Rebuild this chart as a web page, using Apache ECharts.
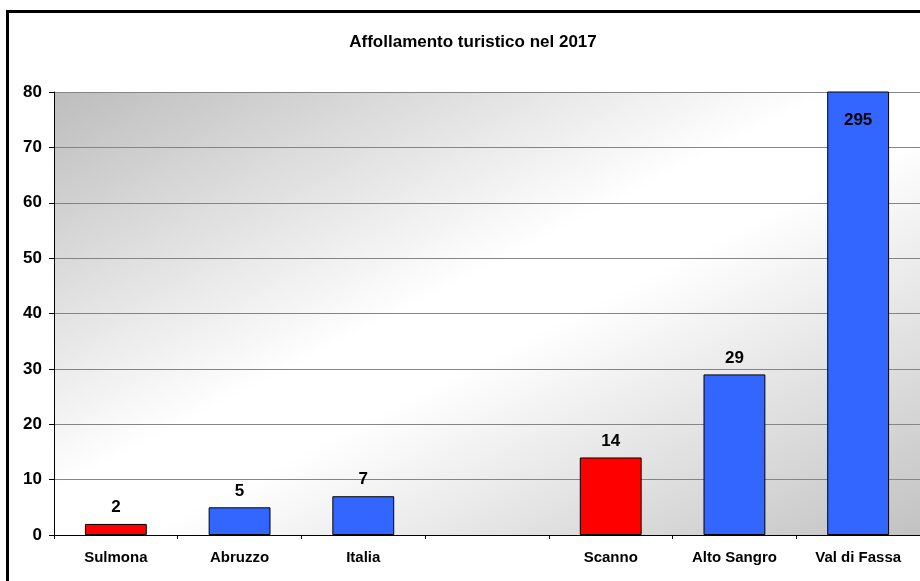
<!DOCTYPE html>
<html>
<head>
<meta charset="utf-8">
<script src="https://cdn.jsdelivr.net/npm/echarts@6/dist/echarts.min.js"></script>
<style>
  html, body { margin: 0; padding: 0; background: #ffffff; }
  #chart { width: 920px; height: 581px; }
</style>
</head>
<body>
<div id="chart"></div>
<script>
// Tourist density per area, 2017
const titleText = 'Affollamento turistico nel 2017';
const categories = ['Sulmona', 'Abruzzo', 'Italia', '', 'Scanno', 'Alto Sangro', 'Val di Fassa'];
const values = [2, 5, 7, null, 14, 29, 295];
const localAreas = ['Sulmona', 'Scanno'];
const yTicks = [0, 10, 20, 30, 40, 50, 60, 70, 80];

const FONT = "'Liberation Sans', Arial, sans-serif";
const RED = '#ff0000';
const BLUE = '#3366ff';

const yMax = yTicks[yTicks.length - 1];

// plot area in pixels
const G = { left: 54, top: 92, right: 920, bottom: 535 };

// diagonal grey-white-grey shading, white band along the bottom-left to top-right diagonal
function plotShade() {
  const w = G.right - G.left, h = G.bottom - G.top;
  const cx = (G.left + G.right) / 2, cy = (G.top + G.bottom) / 2;
  const len = Math.sqrt(h * h + w * w);
  const ux = h / len, uy = w / len;
  const half = Math.abs((-w / 2) * ux + (-h / 2) * uy);
  return {
    type: 'linear', global: true,
    x: cx - half * ux, y: cy - half * uy,
    x2: cx + half * ux, y2: cy + half * uy,
    colorStops: [
      { offset: 0, color: '#bdbdbd' },
      { offset: 0.45, color: '#ffffff' },
      { offset: 0.55, color: '#ffffff' },
      { offset: 1, color: '#c2c2c2' }
    ]
  };
}

const chart = echarts.init(document.getElementById('chart'), null, { renderer: 'canvas' });

const seriesData = values.map((v, i) => {
  const item = {
    value: v,
    itemStyle: { color: localAreas.includes(categories[i]) ? RED : BLUE }
  };
  if (v !== null && v > yMax) {
    item.label = { position: 'insideTop', distance: 20 };
  }
  return item;
});

chart.setOption({
  animation: false,
  backgroundColor: '#ffffff',
  title: {
    text: titleText,
    left: 468,
    top: 29,
    textAlign: 'center',
    textStyle: { fontFamily: FONT, fontSize: 17, fontWeight: 'bold', color: '#000' }
  },
  graphic: [{
    type: 'rect',
    z: 100,
    silent: true,
    shape: { x: 7.5, y: 11.5, width: 1200, height: 1200 },
    style: { fill: null, stroke: '#000', lineWidth: 3 }
  }],
  grid: {
    left: G.left, top: G.top, right: 920 - G.right, bottom: 581 - G.bottom,
    show: true,
    borderWidth: 0,
    backgroundColor: plotShade()
  },
  xAxis: {
    type: 'category',
    data: categories,
    boundaryGap: true,
    axisLine: { lineStyle: { color: '#000', width: 1 } },
    axisTick: { show: true, length: 4, alignWithLabel: false, interval: 0, lineStyle: { color: '#000' } },
    axisLabel: { interval: 0, margin: 15, fontFamily: FONT, fontSize: 15, fontWeight: 'bold', color: '#000' },
    splitLine: { show: false }
  },
  yAxis: {
    type: 'value',
    min: yTicks[0],
    max: yMax,
    interval: yTicks[1] - yTicks[0],
    axisLine: { show: true, lineStyle: { color: '#000', width: 1 } },
    axisTick: { show: true, length: 5, lineStyle: { color: '#000' } },
    axisLabel: { margin: 12, fontFamily: FONT, fontSize: 17, fontWeight: 'bold', color: '#000' },
    splitLine: { show: true, lineStyle: { color: '#858585', width: 1 } }
  },
  series: [{
    type: 'bar',
    data: seriesData,
    barWidth: '50%',
    clip: true,
    itemStyle: { borderColor: '#000', borderWidth: 1 },
    label: {
      show: true,
      position: 'top',
      distance: 8,
      fontFamily: FONT,
      fontSize: 17,
      fontWeight: 'bold',
      color: '#000'
    }
  }]
});
</script>
</body>
</html>
